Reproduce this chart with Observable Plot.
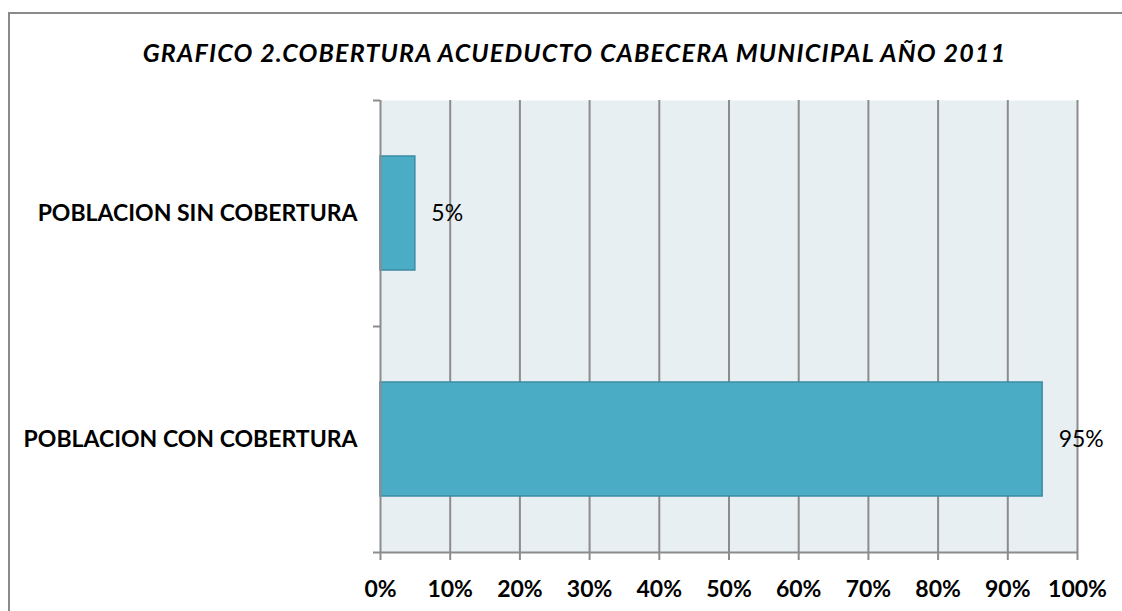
<!DOCTYPE html>
<html>
<head>
<meta charset="utf-8">
<script src="https://cdn.jsdelivr.net/npm/d3@7"></script>
<script src="https://cdn.jsdelivr.net/npm/@observablehq/plot@0.6"></script>
<style>
  html, body { margin: 0; padding: 0; background: #fff; overflow: hidden; width: 1122px; height: 611px; }
  #wrap { position: relative; width: 1122px; height: 611px; }
  #border { position: absolute; left: 8px; top: 12px; width: 1200px; height: 700px; border-left: 2px solid #8a8a8a; border-top: 2px solid #8a8a8a; box-sizing: border-box; }
  #title { position: absolute; left: 8px; width: 1133px; top: 37px; text-align: center; font-family: Lato, sans-serif; font-weight: bold; font-style: italic; font-size: 25px; letter-spacing: 1.2px; line-height: 1.2; color: #000; white-space: nowrap; }
  #chart { position: absolute; left: 0; top: 0; }
</style>
</head>
<body>
<div id="wrap">
  <div id="border"></div>
  <div id="chart"></div>
  <div id="title">GRAFICO 2.COBERTURA ACUEDUCTO CABECERA MUNICIPAL AÑO 2011</div>
</div>
<script>
const categories = ["POBLACION SIN COBERTURA", "POBLACION CON COBERTURA"];
const values = [5, 95];
const xTicks = [0, 10, 20, 30, 40, 50, 60, 70, 80, 90, 100];

const data = categories.map((c, i) => ({ category: c, value: values[i], i }));
const gray = "#8c8c8c";

const chart = Plot.plot({
  width: 1122,
  height: 611,
  marginLeft: 380,
  marginRight: 45,
  marginTop: 100,
  marginBottom: 59,
  style: { fontFamily: "Lato, sans-serif", background: "transparent", color: "#000" },
  x: { domain: [0, 100], label: null },
  y: { domain: [0, categories.length], reverse: true, axis: null, label: null },
  marks: [
    Plot.frame({ fill: "#E8EFF3", stroke: null }),
    Plot.gridX(xTicks.slice(1), { stroke: gray, strokeOpacity: 1, strokeWidth: 2 }),
    Plot.rect(data, {
      x1: () => 0, x2: "value", y1: "i", y2: d => d.i + 1,
      insetTop: 56, insetBottom: 56,
      fill: "#4BACC6", stroke: "#3B8CA2", strokeWidth: 1.5
    }),
    Plot.ruleX([0], { stroke: gray, strokeWidth: 2 }),
    Plot.ruleY([categories.length], { stroke: gray, strokeWidth: 2 }),
    Plot.axisX({
      ticks: xTicks, tickFormat: d => d + "%", tickSize: 8, tickPadding: 20, label: null,
      stroke: gray, strokeWidth: 2, fill: "#000", fontSize: 23, fontWeight: "bold"
    }),
    Plot.axisY({
      ticks: d3.range(categories.length + 1), tickSize: 7, tickFormat: () => "", label: null,
      stroke: gray, strokeWidth: 2
    }),
    Plot.axisY({
      ticks: categories.map((c, i) => i + 0.5), tickSize: 0, tickPadding: 23, label: null,
      tickFormat: d => categories[Math.floor(d)],
      fill: "#000", fontSize: 23, fontWeight: "bold"
    }),
    Plot.text(data, {
      x: "value", y: d => d.i + 0.5, text: d => d.value + "%",
      textAnchor: "start", dx: 16, fontSize: 23, fill: "#000"
    })
  ]
});
document.getElementById("chart").appendChild(chart);
</script>
</body>
</html>
